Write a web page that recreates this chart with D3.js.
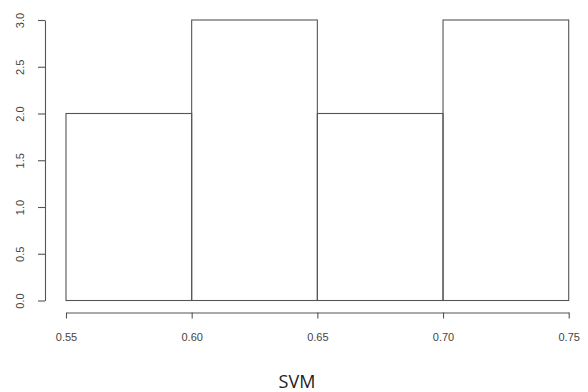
<!DOCTYPE html>
<html>
<head>
<meta charset="utf-8">
<script src="https://cdn.jsdelivr.net/npm/d3@7"></script>
<style>
  body { margin: 0; background: #fff; }
  svg text { font-family: "Liberation Sans", Arial, sans-serif; }
</style>
</head>
<body>
<div id="chart"></div>
<script>
// histogram bins and counts
var binEdges = [0.55, 0.60, 0.65, 0.70, 0.75];
var counts = [2, 3, 2, 3];
var xTicks = [0.55, 0.60, 0.65, 0.70, 0.75];
var yTicks = [0, 0.5, 1, 1.5, 2, 2.5, 3];
var title = "SVM";

var width = 588, height = 392;

var svg = d3.select("#chart").append("svg")
    .attr("width", width)
    .attr("height", height);

var x = d3.scaleLinear().domain([0.55, 0.75]).range([66, 568.7]);
var y = d3.scaleLinear().domain([0, 3]).range([300.5, 20]);

var bins = counts.map(function(c, i) {
  return { x0: binEdges[i], x1: binEdges[i + 1], n: c };
});

svg.selectAll("rect.bar")
    .data(bins)
    .enter().append("rect")
    .attr("class", "bar")
    .attr("x", function(d) { return x(d.x0); })
    .attr("y", function(d) { return y(d.n); })
    .attr("width", function(d) { return x(d.x1) - x(d.x0); })
    .attr("height", function(d) { return y(0) - y(d.n); })
    .attr("fill", "none")
    .attr("stroke", "#555")
    .attr("stroke-width", 1.1);

// x axis, drawn below the bars like R
var xAxis = svg.append("g")
    .attr("transform", "translate(0,312.5)")
    .call(d3.axisBottom(x).tickValues(xTicks).tickSize(6).tickSizeOuter(0)
      .tickFormat(d3.format(".2f")));
xAxis.select(".domain").attr("stroke", "#555").attr("stroke-width", 1.1);
xAxis.selectAll(".tick line").attr("stroke", "#555").attr("stroke-width", 1.1);
xAxis.selectAll(".tick text")
    .attr("y", 21)
    .attr("fill", "#444")
    .style("font-size", "11px");

// y axis, left of the bars, rotated labels
var yAxis = svg.append("g")
    .attr("transform", "translate(45,0)")
    .call(d3.axisLeft(y).tickValues(yTicks).tickSize(7).tickSizeOuter(0)
      .tickFormat(d3.format(".1f")));
yAxis.select(".domain").attr("stroke", "#555").attr("stroke-width", 1.1);
yAxis.selectAll(".tick line").attr("stroke", "#555").attr("stroke-width", 1.1);
yAxis.selectAll(".tick text")
    .attr("x", 0)
    .attr("dy", 0)
    .attr("text-anchor", "middle")
    .attr("transform", "translate(-21,0) rotate(-90)")
    .attr("fill", "#444")
    .style("font-size", "11px");

svg.append("text")
    .attr("x", 297)
    .attr("y", 388)
    .attr("text-anchor", "middle")
    .attr("fill", "#222")
    .style("font-family", "'Open Sans', sans-serif")
    .style("font-size", "18px")
    .text(title);
</script>
</body>
</html>
